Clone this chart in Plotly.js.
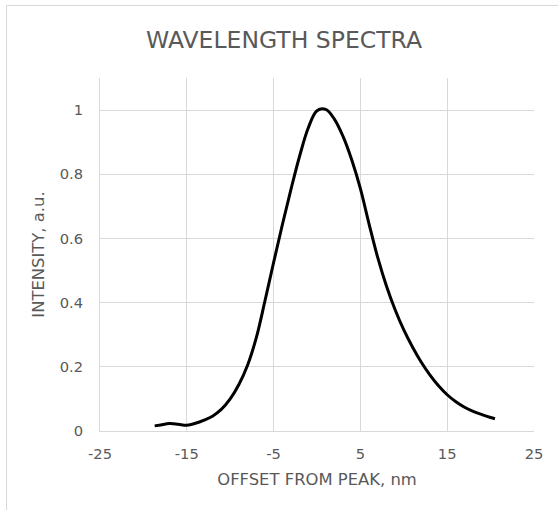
<!DOCTYPE html>
<html>
<head>
<meta charset="utf-8">
<script src="https://cdn.plot.ly/plotly-3.0.1.min.js"></script>
<style>
  html, body { margin: 0; padding: 0; background: #ffffff; }
  #chart { width: 558px; height: 510px; }
  #frame { position: absolute; left: 6px; top: 5px; width: 600px; height: 600px;
           border: 1px solid #d9d9d9; pointer-events: none; z-index: 10; }
</style>
</head>
<body>
<div id="frame"></div>
<div id="chart"></div>
<script>
// Offset from peak (nm)
const offsetNm = [-18.7, -18, -17, -16, -15, -14, -13, -12, -11, -10,
                  -9, -8, -7, -6, -5, -4, -3, -2, -1, 0,
                  1, 2, 3, 4, 5, 6, 7, 8, 9,
                  10, 11, 12, 13, 14, 15, 16, 17, 18, 19,
                  20, 20.5];
// Intensity (a.u.)
const intensity = [0.016, 0.019, 0.023, 0.021, 0.018, 0.024, 0.034, 0.047, 0.068, 0.100,
                   0.145, 0.205, 0.290, 0.405, 0.525, 0.642, 0.753, 0.857, 0.945, 0.998,
                   1.002, 0.972, 0.918, 0.845, 0.755, 0.645, 0.540, 0.452, 0.378,
                   0.315, 0.262, 0.215, 0.175, 0.141, 0.113, 0.091, 0.074, 0.061, 0.051,
                   0.042, 0.038];
const xTicks = [-25, -15, -5, 5, 15, 25];
const yTicks = [0, 0.2, 0.4, 0.6, 0.8, 1];

const fontFamily = '"DejaVu Sans", Verdana, sans-serif';
const textColor = '#595959';
const gridColor = '#d9d9d9';

Plotly.newPlot('chart', [{
  x: offsetNm,
  y: intensity,
  type: 'scatter',
  mode: 'lines',
  line: { color: '#000000', width: 3, shape: 'spline', smoothing: 1 },
  hoverinfo: 'skip'
}], {
  width: 558,
  height: 510,
  margin: { l: 100, r: 24, t: 78, b: 79 },
  paper_bgcolor: '#ffffff',
  plot_bgcolor: '#ffffff',
  showlegend: false,
  font: { family: fontFamily, color: textColor, size: 14.7 },
  title: {
    text: 'WAVELENGTH SPECTRA',
    font: { family: fontFamily, color: textColor, size: 23.5 },
    xref: 'container', x: 284 / 558, xanchor: 'center',
    yref: 'container', y: 1 - 40 / 510, yanchor: 'middle'
  },
  xaxis: {
    range: [-25, 25],
    tickvals: xTicks,
    ticktext: xTicks.map(String),
    showgrid: true, gridcolor: gridColor, gridwidth: 1,
    zeroline: false,
    showline: true, linecolor: gridColor, linewidth: 1,
    ticks: 'outside', ticklen: 9, tickcolor: 'rgba(0,0,0,0)',
    tickfont: { family: fontFamily, color: textColor, size: 14.7 },
    title: { text: 'OFFSET FROM PEAK, nm', standoff: 12,
             font: { family: fontFamily, color: textColor, size: 16.4 } }
  },
  yaxis: {
    range: [0, 1.1],
    tickvals: yTicks,
    ticktext: yTicks.map(String),
    showgrid: true, gridcolor: gridColor, gridwidth: 1,
    zeroline: false,
    showline: true, linecolor: gridColor, linewidth: 1,
    ticks: 'outside', ticklen: 13, tickcolor: 'rgba(0,0,0,0)',
    tickfont: { family: fontFamily, color: textColor, size: 14.7 },
    title: { text: 'INTENSITY, a.u.', standoff: 10,
             font: { family: fontFamily, color: textColor, size: 16.4 } }
  }
}, { staticPlot: true, displayModeBar: false });
</script>
</body>
</html>
